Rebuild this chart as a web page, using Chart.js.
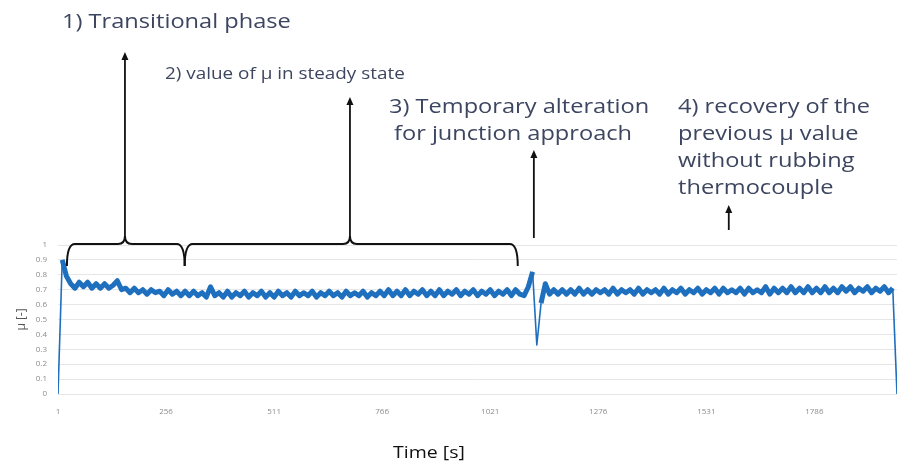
<!DOCTYPE html>
<html>
<head>
<meta charset="utf-8">
<script src="https://cdn.jsdelivr.net/npm/chart.js@4.4.1/dist/chart.umd.min.js"></script>
<style>
  html, body { margin: 0; padding: 0; background: #fff; }
  #wrap { width: 898px; height: 466px; position: relative; }
</style>
</head>
<body>
<div id="wrap"><canvas id="muChart"></canvas></div>
<script>
// Dati: coefficiente di attrito, un campione ogni 10 s a partire da t = 1 s
const startTime = 1;
const sampleStep = 10;
const muValues = [
  0, 0.90, 0.79, 0.74, 0.71, 0.75, 0.72, 0.75, 0.71, 0.74,
  0.71, 0.74, 0.71, 0.73, 0.76, 0.70, 0.71, 0.68, 0.71, 0.68,
  0.70, 0.67, 0.70, 0.68, 0.69, 0.66, 0.70, 0.67, 0.69, 0.66,
  0.69, 0.66, 0.69, 0.66, 0.68, 0.65, 0.72, 0.66, 0.68, 0.65,
  0.69, 0.65, 0.68, 0.66, 0.69, 0.65, 0.68, 0.66, 0.69, 0.65,
  0.68, 0.65, 0.69, 0.66, 0.68, 0.65, 0.69, 0.66, 0.68, 0.66,
  0.69, 0.65, 0.68, 0.66, 0.69, 0.66, 0.68, 0.65, 0.69, 0.66,
  0.68, 0.66, 0.69, 0.65, 0.68, 0.66, 0.69, 0.66, 0.70, 0.66,
  0.69, 0.66, 0.70, 0.66, 0.69, 0.67, 0.70, 0.66, 0.69, 0.66,
  0.70, 0.66, 0.69, 0.67, 0.70, 0.66, 0.69, 0.67, 0.70, 0.66,
  0.69, 0.67, 0.70, 0.66, 0.69, 0.67, 0.70, 0.66, 0.70, 0.67,
  0.66, 0.72, 0.82, 0.33, 0.61, 0.74, 0.67, 0.70, 0.67, 0.70,
  0.67, 0.70, 0.67, 0.71, 0.67, 0.70, 0.67, 0.70, 0.68, 0.70,
  0.67, 0.71, 0.67, 0.70, 0.68, 0.70, 0.67, 0.71, 0.67, 0.70,
  0.68, 0.70, 0.67, 0.71, 0.67, 0.70, 0.68, 0.71, 0.67, 0.70,
  0.68, 0.71, 0.67, 0.70, 0.68, 0.71, 0.67, 0.71, 0.68, 0.70,
  0.68, 0.71, 0.67, 0.71, 0.68, 0.70, 0.68, 0.72, 0.67, 0.71,
  0.68, 0.71, 0.68, 0.72, 0.68, 0.71, 0.68, 0.72, 0.68, 0.71,
  0.68, 0.72, 0.68, 0.71, 0.68, 0.72, 0.69, 0.72, 0.68, 0.71,
  0.69, 0.72, 0.68, 0.71, 0.69, 0.72, 0.68, 0.71, 0
];
const xTickValues = [1, 256, 511, 766, 1021, 1276, 1531, 1786];
const yTickValues = [0, 0.1, 0.2, 0.3, 0.4, 0.5, 0.6, 0.7, 0.8, 0.9, 1];
const xTitle = 'Time [s]';

// Annotazioni (tempi in s)
const braceSpans = [[22, 300, 159], [300, 1086, 690]];
const arrowTimes = [159, 690, 1124, 1584];
const noteTexts = [
  ['1) Transitional phase'],
  ['2) value of \u03bc in steady state'],
  ['3) Temporary alteration', 'for junction approach'],
  ['4) recovery of the', 'previous \u03bc value', 'without rubbing', 'thermocouple']
];

const points = muValues.map((v, i) => ({ x: startTime + i * sampleStep, y: v }));
const lastTime = startTime + (muValues.length - 1) * sampleStep;

function drawBrace(ctx, x1, x2, xm, yLine, yEnd) {
  ctx.beginPath();
  ctx.moveTo(x1, yEnd);
  ctx.quadraticCurveTo(x1, yLine, x1 + 8, yLine);
  ctx.lineTo(xm - 7, yLine);
  ctx.quadraticCurveTo(xm, yLine, xm, yLine - 8);
  ctx.quadraticCurveTo(xm, yLine, xm + 7, yLine);
  ctx.lineTo(x2 - 8, yLine);
  ctx.quadraticCurveTo(x2, yLine, x2, yEnd);
  ctx.stroke();
}

function drawArrow(ctx, x, yFrom, yTo) {
  ctx.beginPath();
  ctx.moveTo(x, yFrom);
  ctx.lineTo(x, yTo + 5);
  ctx.stroke();
  ctx.beginPath();
  ctx.moveTo(x, yTo);
  ctx.lineTo(x - 3.5, yTo + 8);
  ctx.lineTo(x + 3.5, yTo + 8);
  ctx.closePath();
  ctx.fill();
}

// testo leggermente allargato in orizzontale come nell'immagine originale
function wideText(ctx, txt, x, y, stretch) {
  ctx.save();
  ctx.translate(x, y);
  ctx.scale(stretch, 1);
  ctx.fillText(txt, 0, 0);
  ctx.restore();
}

const annotations = {
  id: 'annotations',
  afterDraw(chart) {
    const { ctx } = chart;
    const px = v => chart.scales.x.getPixelForValue(v);
    ctx.save();
    ctx.strokeStyle = '#111';
    ctx.fillStyle = '#111';
    ctx.lineWidth = 2;
    braceSpans.forEach(([a, b, m]) => drawBrace(ctx, px(a), px(b), px(m), 244, 266));

    ctx.lineWidth = 1.8;
    const arrowEnds = [[236, 52], [236, 97], [238, 150], [230, 205]];
    arrowTimes.forEach((t, i) => drawArrow(ctx, px(t), arrowEnds[i][0], arrowEnds[i][1]));

    ctx.fillStyle = '#3d4660';
    ctx.textBaseline = 'alphabetic';
    const layout = [
      { x: 62, y: 28, size: 20 },
      { x: 165, y: 79, size: 16 },
      { x: 389, y: 113, size: 20 },
      { x: 678, y: 113, size: 20 }
    ];
    noteTexts.forEach((lines, i) => {
      const l = layout[i];
      ctx.font = l.size + 'px "Open Sans"';
      lines.forEach((txt, k) => {
        const indent = (i === 2 && k === 1) ? 5 : 0;
        wideText(ctx, txt, l.x + indent, l.y + k * 27, 1.18);
      });
    });

    ctx.fillStyle = '#111';
    ctx.font = '16px "Open Sans"';
    wideText(ctx, xTitle, 393, 458, 1.22);
    ctx.restore();
  }
};

new Chart(document.getElementById('muChart'), {
  type: 'line',
  data: {
    datasets: [{
      data: points,
      borderColor: '#1f6fbf',
      borderWidth: 5,
      borderJoinStyle: 'round',
      pointRadius: 0,
      tension: 0,
      fill: false,
      segment: {
        borderWidth: c => Math.abs(c.p1.parsed.y - c.p0.parsed.y) > 0.15 ? 1.6 : 5
      }
    }]
  },
  options: {
    responsive: true,
    maintainAspectRatio: false,
    animation: false,
    layout: { padding: { top: 245, right: 1, bottom: 0, left: 0 } },
    plugins: { legend: { display: false }, tooltip: { enabled: false } },
    scales: {
      x: {
        type: 'linear',
        min: startTime,
        max: lastTime,
        afterBuildTicks: s => { s.ticks = xTickValues.map(v => ({ value: v })); },
        afterFit: s => { s.height = 72; },
        grid: { display: false },
        border: { display: false },
        ticks: {
          autoSkip: false,
          maxRotation: 0,
          padding: 5,
          color: '#8c8c8c',
          font: { family: 'Open Sans', size: 8 },
          callback: v => String(v)
        }
      },
      y: {
        min: 0,
        max: 1,
        afterBuildTicks: s => { s.ticks = yTickValues.map(v => ({ value: v })); },
        afterFit: s => { s.width = 58; },
        grid: { color: '#e6e6e6', drawTicks: false },
        border: { display: false },
        ticks: {
          padding: 11,
          color: '#8c8c8c',
          font: { family: 'Open Sans', size: 8 },
          callback: v => String(Math.round(v * 10) / 10)
        },
        title: {
          display: true,
          text: '\u03bc [-]',
          color: '#555',
          font: { family: 'Open Sans', size: 12 },
          padding: { top: 14, bottom: 0 }
        }
      }
    }
  },
  plugins: [annotations]
});
</script>
</body>
</html>
